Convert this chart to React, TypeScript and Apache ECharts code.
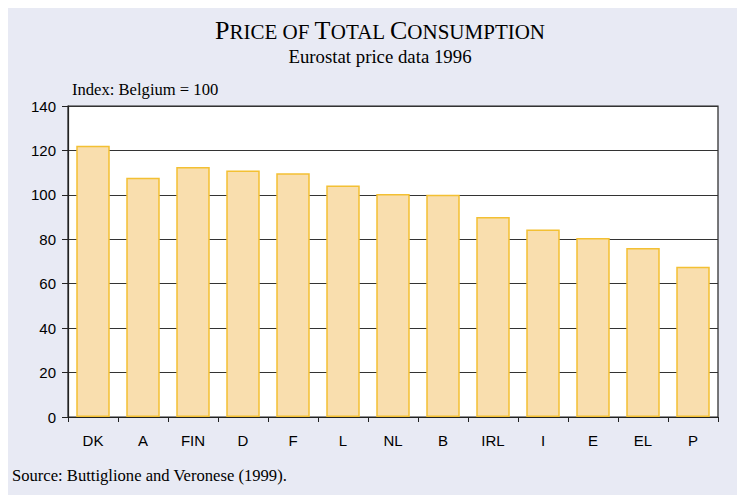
import React, { useEffect, useRef } from "react";
import * as echarts from "echarts";

const categories = ["DK", "A", "FIN", "D", "F", "L", "NL", "B", "IRL", "I", "E", "EL", "P"];
const values = [122.1, 107.7, 112.5, 111.0, 109.7, 104.2, 100.4, 100.0, 90.0, 84.4, 80.6, 76.1, 67.6];
const yTicks = { min: 0, max: 140, interval: 20 };

const serif = "'Liberation Serif', 'Times New Roman', serif";
const sans = "'Liberation Sans', Arial, sans-serif";

export default function App() {
  const ref = useRef<HTMLDivElement>(null);
  useEffect(() => {
    if (!ref.current) return;
    const chart = echarts.init(ref.current, undefined, { renderer: "svg" });
    chart.setOption({
      animation: false,
      backgroundColor: "#E8EAF4",
      grid: {
        left: 60,
        right: 27,
        top: 98,
        bottom: 78,
        show: true,
        backgroundColor: "#ffffff",
        borderColor: "#222",
        borderWidth: 1.2,
      },
      graphic: [
        {
          type: "text",
          x: 372,
          y: 22,
          style: {
            text: "{b|P}{s|RICE OF }{b|T}{s|OTAL }{b|C}{s|ONSUMPTION}",
            textAlign: "center",
            textVerticalAlign: "middle",
            rich: {
              b: { fontFamily: serif, fontSize: 26, fill: "#000" },
              s: { fontFamily: serif, fontSize: 21, fill: "#000", padding: [3, 0, 0, 0] },
            },
          },
        },
        {
          type: "text",
          x: 372,
          y: 48,
          style: {
            text: "Eurostat price data 1996",
            textAlign: "center",
            textVerticalAlign: "middle",
            fontFamily: serif,
            fontSize: 18.8,
            fill: "#000",
          },
        },
        {
          type: "text",
          x: 64,
          y: 81,
          style: {
            text: "Index: Belgium = 100",
            textAlign: "left",
            textVerticalAlign: "middle",
            fontFamily: serif,
            fontSize: 16.6,
            fill: "#000",
          },
        },
        {
          type: "text",
          x: 4,
          y: 467,
          style: {
            text: "Source: Buttiglione and Veronese (1999).",
            textAlign: "left",
            textVerticalAlign: "middle",
            fontFamily: serif,
            fontSize: 16.6,
            fill: "#000",
          },
        },
      ],
      xAxis: {
        type: "category",
        data: categories,
        boundaryGap: true,
        axisLine: { show: true, lineStyle: { color: "#222", width: 1.2 } },
        axisTick: { show: true, length: 5, inside: false, lineStyle: { color: "#222" } },
        axisLabel: { fontFamily: sans, fontSize: 15, color: "#000", margin: 16 },
        splitLine: { show: false },
      },
      yAxis: {
        type: "value",
        min: yTicks.min,
        max: yTicks.max,
        interval: yTicks.interval,
        axisLine: { show: true, lineStyle: { color: "#222", width: 1.2 } },
        axisTick: { show: true, length: 6, inside: false, lineStyle: { color: "#222" } },
        axisLabel: { fontFamily: sans, fontSize: 15, color: "#000", margin: 12 },
        splitLine: { show: true, lineStyle: { color: "#333", width: 1.2 } },
      },
      series: [
        {
          type: "bar",
          data: values,
          barWidth: "67%",
          itemStyle: { color: "#F9DEAE", borderColor: "#F3C033", borderWidth: 1.5 },
        },
      ],
    });
    return () => chart.dispose();
  }, []);
  return <div ref={ref} style={{ width: 737, height: 487 }} />;
}
